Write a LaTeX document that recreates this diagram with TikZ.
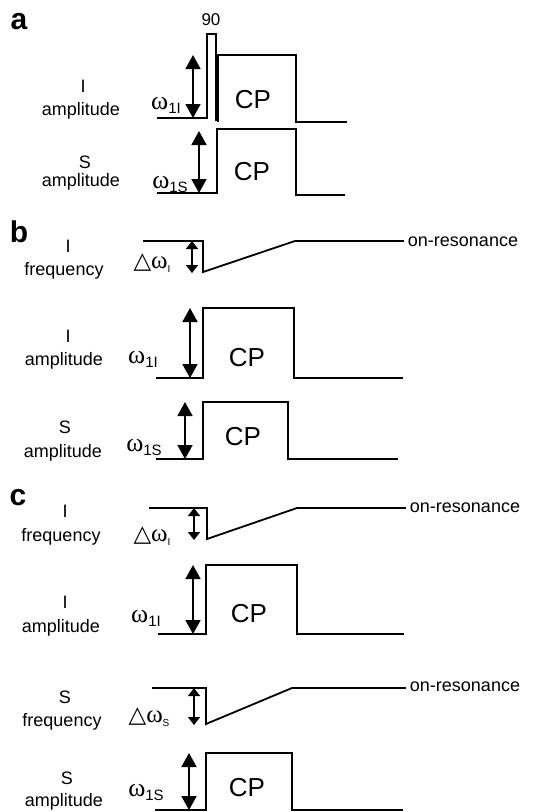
\documentclass[tikz,border=0pt]{standalone}
\usepackage{fontspec}
\setmainfont{Liberation Sans}
\newfontfamily\serifw{Liberation Serif}
\newfontfamily\dvs{DejaVu Sans}
\usetikzlibrary{arrows.meta}
\newcommand{\wsym}[1]{{\fontsize{26}{28}\selectfont\serifw ω}\raisebox{-4pt}{\fontsize{15}{16}\selectfont #1}}
\newcommand{\dsym}[1]{{\fontsize{23}{25}\selectfont\dvs △}{\fontsize{25}{27}\selectfont\serifw ω}\raisebox{-4pt}{\fontsize{10}{11}\selectfont #1}}
\tikzset{
  pulse/.style={line width=1.8pt, line join=miter},
  amparrow/.style={line width=1.8pt, {Triangle[length=14pt,width=15pt]}-{Triangle[length=14pt,width=15pt]}},
  frqarrow/.style={line width=1.6pt, {Triangle[length=8pt,width=12pt]}-{Triangle[length=8pt,width=12pt]}},
  lab/.style={font=\fontsize{18}{21}\selectfont, inner sep=0pt},
  cp/.style={font=\fontsize{26}{28}\selectfont, inner sep=0pt},
  sym/.style={inner sep=0pt},
  panel/.style={font=\fontsize{30}{32}\selectfont\bfseries, inner sep=0pt},
}
\begin{document}
\begin{tikzpicture}[x=1pt,y=-1pt]
\useasboundingbox (0,0) rectangle (544,812);

% ---------------- panel a ----------------
\node[panel] (pa) at (19,22) {a};
\node[lab,font=\fontsize{17}{19}\selectfont] (n90) at (211,20) {90};
\node[lab] (aI1) at (83,86) {I};
\node[lab] (aA1) at (81,111) {amplitude};
\node[lab] (aS2) at (85,162) {S};
\node[lab] (aA2) at (81,182) {amplitude};
\node[sym] (aw1) at (166,105) {\wsym{1I}};
\node[sym] (aw2) at (170,184) {\wsym{1S}};
\node[cp] (acp1) at (253,100) {CP};
\node[cp] (acp2) at (252,172) {CP};
% I amplitude with 90 pulse
\draw[pulse] (157,118) -- (207,118) -- (207,34) -- (216,34) -- (216,121);
\draw[pulse] (218,122) -- (218,55) -- (296,55) -- (296,122) -- (347,122);
\coordinate (aa1t) at (193,55); \coordinate (aa1b) at (193,118);
\draw[amparrow] (aa1t) -- (aa1b);
% S amplitude
\draw[pulse] (157,193) -- (217,193) -- (217,129) -- (296,129) -- (296,195) -- (345,195);
\coordinate (aa2t) at (199,131); \coordinate (aa2b) at (199,193);
\draw[amparrow] (aa2t) -- (aa2b);

% ---------------- panel b ----------------
\node[panel] (pb) at (19,232) {b};
\node[lab] (bI1) at (68,246) {I};
\node[lab] (bF1) at (64,271) {frequency};
\node[sym] (bd1) at (152,263) {\dsym{I}};
\node[lab] (bon) at (463,242) {on-resonance};
\draw[pulse] (143,241) -- (203,241) -- (203,272) -- (295,241) -- ([xshift=-4pt]bon.west |- 0,241);
\coordinate (bf1t) at (192,241); \coordinate (bf1b) at (192,273);
\draw[frqarrow] (bf1t) -- (bf1b);

\node[lab] (bI2) at (68,336) {I};
\node[lab] (bA2) at (64,361) {amplitude};
\node[sym] (bw2) at (143,359) {\wsym{1I}};
\node[cp] (bcp2) at (247,358) {CP};
\draw[pulse] (156,378) -- (203,378) -- (203,308) -- (294,308) -- (294,378) -- (403,378);
\coordinate (ba2t) at (190,308); \coordinate (ba2b) at (190,378);
\draw[amparrow] (ba2t) -- (ba2b);

\node[lab] (bS3) at (65,427) {S};
\node[lab] (bA3) at (63,453) {amplitude};
\node[sym] (bw3) at (144,447) {\wsym{1S}};
\node[cp] (bcp3) at (243,437) {CP};
\draw[pulse] (156,459) -- (203,459) -- (203,402) -- (288,402) -- (288,459) -- (398,459);
\coordinate (ba3t) at (185,402); \coordinate (ba3b) at (185,459);
\draw[amparrow] (ba3t) -- (ba3b);

% ---------------- panel c ----------------
\node[panel] (pc) at (18,498) {c};
\node[lab] (cI1) at (65,511) {I};
\node[lab] (cF1) at (61,537) {frequency};
\node[sym] (cd1) at (152,536) {\dsym{I}};
\node[lab] (con1) at (465,508) {on-resonance};
\draw[pulse] (149,508) -- (207,508) -- (207,539) -- (297,508) -- ([xshift=-4pt]con1.west |- 0,508);
\coordinate (cf1t) at (194,508); \coordinate (cf1b) at (194,540);
\draw[frqarrow] (cf1t) -- (cf1b);

\node[lab] (cI2) at (65,602) {I};
\node[lab] (cA2) at (61,628) {amplitude};
\node[sym] (cw2) at (146,618) {\wsym{1I}};
\node[cp] (ccp2) at (249,614) {CP};
\draw[pulse] (158,634) -- (206,634) -- (206,565) -- (297,565) -- (297,634) -- (404,634);
\coordinate (ca2t) at (193,565); \coordinate (ca2b) at (193,634);
\draw[amparrow] (ca2t) -- (ca2b);

\node[lab] (cS3) at (65,697) {S};
\node[lab] (cF3) at (62,722) {frequency};
\node[sym] (cd3) at (149,717) {\dsym{S}};
\node[lab] (con3) at (465,687) {on-resonance};
\draw[pulse] (152,688) -- (206,688) -- (206,724) -- (292,688) -- ([xshift=-4pt]con3.west |- 0,688);
\coordinate (cf3t) at (194,688); \coordinate (cf3b) at (194,725);
\draw[frqarrow] (cf3t) -- (cf3b);

\node[lab] (cS4) at (67,778) {S};
\node[lab] (cA4) at (64,802) {amplitude};
\node[sym] (cw4) at (146,792) {\wsym{1S}};
\node[cp] (ccp4) at (247,788) {CP};
\draw[pulse] (155,810) -- (206,810) -- (206,753) -- (292,753) -- (292,810) -- (403,810);
\coordinate (ca4t) at (189,753); \coordinate (ca4b) at (189,810);
\draw[amparrow] (ca4t) -- (ca4b);
\end{tikzpicture}
\end{document}
